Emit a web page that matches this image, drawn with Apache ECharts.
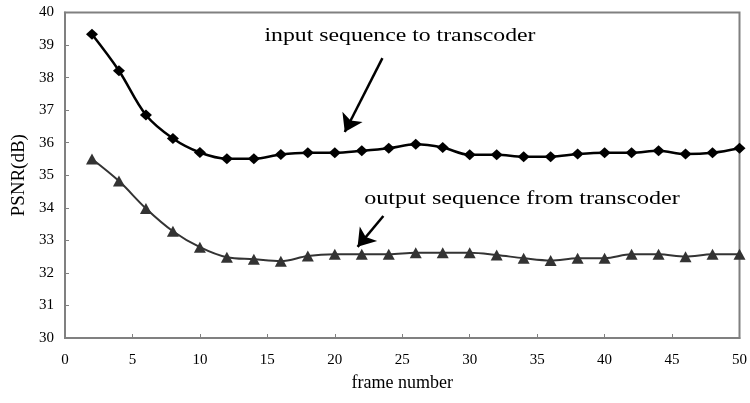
<!DOCTYPE html>
<html>
<head>
<meta charset="utf-8">
<script src="https://cdn.jsdelivr.net/npm/echarts@6/dist/echarts.min.js"></script>
<style>
html,body{margin:0;padding:0;background:#fff;}
#chart{width:750px;height:403px;}
</style>
</head>
<body>
<div id="chart"></div>
<script>
const frames = [2,4,6,8,10,12,14,16,18,20,22,24,26,28,30,32,34,36,38,40,42,44,46,48,50];
const inputPSNR = [39.33,38.21,36.85,36.13,35.70,35.51,35.51,35.64,35.69,35.69,35.75,35.83,35.95,35.85,35.63,35.63,35.57,35.57,35.65,35.69,35.69,35.75,35.65,35.69,35.83];
const outputPSNR = [35.50,34.82,33.98,33.28,32.79,32.48,32.42,32.36,32.52,32.57,32.57,32.57,32.62,32.62,32.62,32.55,32.45,32.38,32.45,32.45,32.57,32.57,32.50,32.57,32.57];
const inputArrow = [[23.53,38.60],[20.74,36.33]];
const outputArrow = [[23.60,33.75],[21.69,32.80]];
const inputLabel = 'input sequence to transcoder';
const outputLabel = 'output sequence from transcoder';

const serif = '"Liberation Serif","Times New Roman",serif';
const chart = echarts.init(document.getElementById('chart'), null, {renderer:'canvas'});
const axisGray = '#808080';

function pairs(xs, ys){ return xs.map((x,i)=>[x, ys[i]]); }
function arrowLine(a){
  return {
    silent:true, animation:false,
    symbol:['none','arrow'], symbolSize:17,
    lineStyle:{color:'#000', width:2.5, type:'solid'},
    itemStyle:{color:'#000'},
    label:{show:false},
    emphasis:{disabled:true},
    data:[[{coord:a[0], symbol:'none'},{coord:a[1], symbol:'arrow', symbolSize:17}]]
  };
}

chart.setOption({
  animation:false,
  backgroundColor:'#fff',
  grid:{left:65, right:5, top:12.5, bottom:65, show:true, borderColor:axisGray, borderWidth:2, backgroundColor:'transparent'},
  xAxis:{
    type:'value', min:0, max:50, interval:5,
    name:'frame number', nameLocation:'middle', nameGap:36,
    nameTextStyle:{fontFamily:serif, fontSize:18, color:'#000'},
    axisLine:{show:true, lineStyle:{color:axisGray, width:2}},
    axisTick:{show:true, inside:true, length:4, lineStyle:{color:axisGray, width:1}},
    axisLabel:{fontFamily:serif, fontSize:15, color:'#000', margin:15},
    splitLine:{show:false}
  },
  yAxis:{
    type:'value', min:30, max:40, interval:1,
    name:'PSNR(dB)', nameLocation:'middle', nameGap:34, nameRotate:90,
    nameTextStyle:{fontFamily:serif, fontSize:19, color:'#000'},
    axisLine:{show:true, lineStyle:{color:axisGray, width:2}},
    axisTick:{show:true, inside:true, length:4, lineStyle:{color:axisGray, width:1}},
    axisLabel:{fontFamily:serif, fontSize:15, color:'#000', margin:11},
    splitLine:{show:false}
  },
  series:[
    {
      name:'input', type:'line', data:pairs(frames,inputPSNR), smooth:0.35, clip:false,
      symbol:'diamond', symbolSize:[12,11], showAllSymbol:true,
      lineStyle:{color:'#000', width:2.5},
      itemStyle:{color:'#000'},
      markLine:arrowLine(inputArrow)
    },
    {
      name:'output', type:'line', data:pairs(frames,outputPSNR), smooth:0.35, clip:false,
      symbol:'triangle', symbolSize:[12,11], showAllSymbol:true,
      lineStyle:{color:'#333', width:2},
      itemStyle:{color:'#333'},
      markLine:arrowLine(outputArrow)
    }
  ],
  graphic:[
    {type:'text', x:400, y:36, scaleX:1.25, silent:true,
     style:{text:inputLabel, font:'19px '+serif, fill:'#000', textAlign:'center', textVerticalAlign:'middle'}},
    {type:'text', x:522, y:199, scaleX:1.27, silent:true,
     style:{text:outputLabel, font:'19px '+serif, fill:'#000', textAlign:'center', textVerticalAlign:'middle'}}
  ]
});
</script>
</body>
</html>
